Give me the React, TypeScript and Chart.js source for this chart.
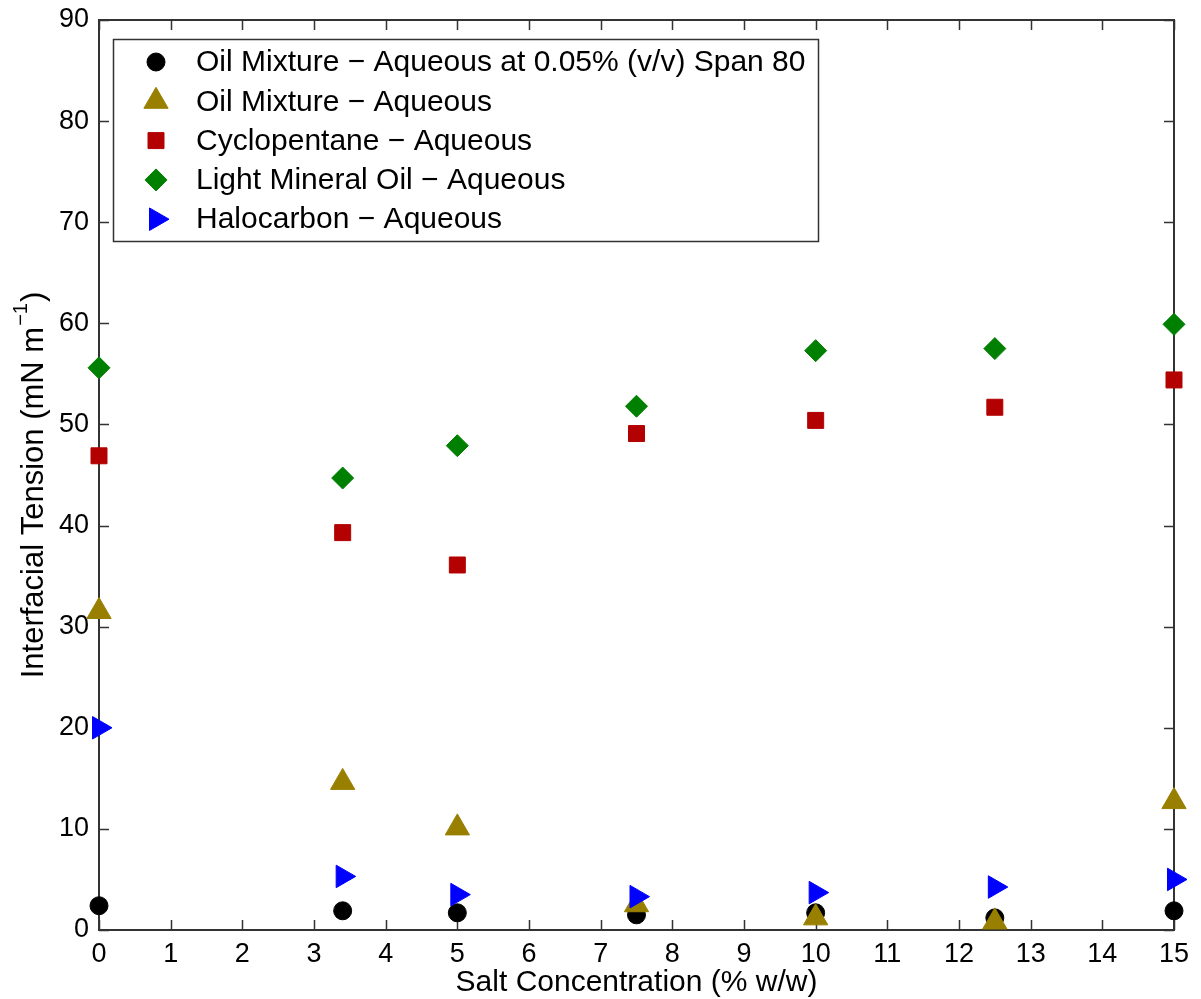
import { useEffect, useRef } from 'react';
import { Chart, registerables } from 'chart.js';
import { drawPoint } from 'chart.js/helpers';

Chart.register(...registerables);

// Salt concentration (% w/w) at which each interface was measured
const saltConcentration = [0, 3.4, 5, 7.5, 10, 12.5, 15];

// Interfacial tension (mN/m) for each oil / aqueous pair
const oilMixtureSpan80 = [2.4, 1.9, 1.7, 1.5, 1.7, 1.2, 1.9];
const oilMixture = [31.5, 14.6, 10.1, 2.5, 1.2, 0.8, 12.7];
const cyclopentane = [46.9, 39.3, 36.1, 49.1, 50.4, 51.7, 54.4];
const lightMineralOil = [55.6, 44.7, 47.9, 51.8, 57.3, 57.5, 59.9];
const halocarbon = [20.0, 5.3, 3.5, 3.3, 3.7, 4.25, 5.0];

const seriesLabels = [
  'Oil Mixture − Aqueous at 0.05% (v/v) Span 80',
  'Oil Mixture − Aqueous',
  'Cyclopentane − Aqueous',
  'Light Mineral Oil − Aqueous',
  'Halocarbon − Aqueous',
];

const xTicks = [0, 1, 2, 3, 4, 5, 6, 7, 8, 9, 10, 11, 12, 13, 14, 15];
const yTicks = [0, 10, 20, 30, 40, 50, 60, 70, 80, 90];

const xTitle = 'Salt Concentration (% w/w)';
const yTitleMain = 'Interfacial Tension (mN m';
const yTitleSup = '−1';
const yTitleEnd = ')';

const FONT = '"Liberation Sans", Arial, Helvetica, sans-serif';
const AXIS_COLOR = '#333333';
const TICK_LEN = 10;

type Marker = { color: string; style: string; radius: number; rotation: number };

const markers: Marker[] = [
  { color: '#000000', style: 'circle', radius: 9, rotation: 0 },
  { color: '#997F00', style: 'triangle', radius: 14, rotation: 0 },
  { color: '#B30000', style: 'rect', radius: 11.3, rotation: 0 },
  { color: '#008000', style: 'rectRot', radius: 11, rotation: 0 },
  { color: '#0000FF', style: 'triangle', radius: 13, rotation: 90 },
];

const seriesValues = [oilMixtureSpan80, oilMixture, cyclopentane, lightMineralOil, halocarbon];

// Box around the axes with inward ticks on all four sides
const framePlugin = {
  id: 'frame',
  beforeDatasetsDraw(chart: any) {
    const { ctx, chartArea, scales } = chart;
    const { left, right, top, bottom } = chartArea;
    ctx.save();
    ctx.strokeStyle = AXIS_COLOR;
    ctx.lineWidth = 2;
    ctx.strokeRect(left, top, right - left, bottom - top);
    ctx.beginPath();
    for (const t of xTicks) {
      const px = Math.round(scales.x.getPixelForValue(t)) + 0.5;
      ctx.moveTo(px, bottom);
      ctx.lineTo(px, bottom - TICK_LEN);
      ctx.moveTo(px, top);
      ctx.lineTo(px, top + TICK_LEN);
    }
    for (const t of yTicks) {
      const py = Math.round(scales.y.getPixelForValue(t)) + 0.5;
      ctx.moveTo(left, py);
      ctx.lineTo(left + TICK_LEN, py);
      ctx.moveTo(right, py);
      ctx.lineTo(right - TICK_LEN, py);
    }
    ctx.lineWidth = 1.5;
    ctx.stroke();
    ctx.restore();
  },
};

// Axis titles (with a superscript unit) and the boxed legend
const annotationPlugin = {
  id: 'annotations',
  afterDraw(chart: any) {
    const { ctx, chartArea } = chart;
    const { left, right, top, bottom } = chartArea;
    ctx.save();

    // x-axis title
    ctx.fillStyle = '#000';
    ctx.font = `30px ${FONT}`;
    ctx.textAlign = 'center';
    ctx.textBaseline = 'middle';
    ctx.fillText(xTitle, (left + right) / 2, 983);

    // y-axis title
    ctx.save();
    ctx.translate(34, (top + bottom) / 2 + 10);
    ctx.rotate(-Math.PI / 2);
    ctx.textAlign = 'left';
    ctx.font = `31px ${FONT}`;
    const wMain = ctx.measureText(yTitleMain).width;
    const wEnd = ctx.measureText(yTitleEnd).width;
    ctx.font = `20px ${FONT}`;
    const wSup = ctx.measureText(yTitleSup).width;
    let cx = -(wMain + wSup + wEnd + 2) / 2;
    ctx.font = `31px ${FONT}`;
    ctx.fillText(yTitleMain, cx, 0);
    cx += wMain + 1;
    ctx.font = `20px ${FONT}`;
    ctx.fillText(yTitleSup, cx, -13);
    cx += wSup + 1;
    ctx.font = `31px ${FONT}`;
    ctx.fillText(yTitleEnd, cx, 0);
    ctx.restore();

    // legend
    const boxL = 113;
    const boxT = 39;
    const boxR = 818;
    const boxB = 241;
    ctx.fillStyle = '#ffffff';
    ctx.fillRect(boxL, boxT, boxR - boxL, boxB - boxT);
    ctx.strokeStyle = AXIS_COLOR;
    ctx.lineWidth = 1.5;
    ctx.strokeRect(boxL + 0.5, boxT + 0.5, boxR - boxL, boxB - boxT);

    const rowStart = 62;
    const rowStep = 39.3;
    seriesLabels.forEach((label, i) => {
      const y = rowStart + i * rowStep;
      const m = markers[i];
      ctx.fillStyle = m.color;
      ctx.strokeStyle = m.color;
      ctx.lineWidth = 1;
      drawPoint(ctx, { pointStyle: m.style as any, rotation: m.rotation, radius: m.radius, borderWidth: 1 }, 156, y);
      ctx.fillStyle = '#000';
      ctx.font = `30px ${FONT}`;
      ctx.textAlign = 'left';
      ctx.textBaseline = 'middle';
      ctx.fillText(label, 196, y + 1);
    });

    ctx.restore();
  },
};

export default function App() {
  const canvasRef = useRef<HTMLCanvasElement | null>(null);

  useEffect(() => {
    document.body.style.margin = '0';
    const canvas = canvasRef.current;
    if (!canvas) return;

    const datasets = seriesLabels.map((label, i) => ({
      label,
      data: saltConcentration.map((x, k) => ({ x, y: seriesValues[i][k] })),
      showLine: false,
      pointStyle: markers[i].style as any,
      pointRadius: markers[i].radius,
      pointRotation: markers[i].rotation,
      pointBackgroundColor: markers[i].color,
      pointBorderColor: markers[i].color,
      pointBorderWidth: 1,
      clip: false as any,
      // later series sit on top of earlier ones
      order: seriesLabels.length - i,
    }));

    const chart = new Chart(canvas, {
      type: 'scatter',
      data: { datasets },
      plugins: [framePlugin, annotationPlugin],
      options: {
        animation: false,
        responsive: false,
        devicePixelRatio: 1,
        layout: { padding: { top: 20, right: 27, left: 0, bottom: 0 } },
        plugins: {
          legend: { display: false },
          tooltip: { enabled: false },
        },
        scales: {
          x: {
            type: 'linear',
            min: 0,
            max: 15,
            afterFit: (s: any) => {
              s.height = 69;
              s.paddingLeft = 0;
              s.paddingRight = 0;
            },
            afterBuildTicks: (s: any) => {
              s.ticks = xTicks.map((v) => ({ value: v }));
            },
            grid: { display: false, drawTicks: false },
            border: { display: false },
            ticks: {
              autoSkip: false,
              maxRotation: 0,
              padding: 8,
              color: '#000',
              font: { family: FONT, size: 27 },
            },
          },
          y: {
            type: 'linear',
            min: 0,
            max: 90,
            afterFit: (s: any) => {
              s.width = 99;
              s.paddingTop = 0;
              s.paddingBottom = 0;
            },
            afterBuildTicks: (s: any) => {
              s.ticks = yTicks.map((v) => ({ value: v }));
            },
            grid: { display: false, drawTicks: false },
            border: { display: false },
            ticks: {
              padding: 10,
              color: '#000',
              font: { family: FONT, size: 27 },
            },
          },
        },
      },
    });

    return () => chart.destroy();
  }, []);

  return (
    <div style={{ width: 1201, height: 999, background: '#fff' }}>
      <canvas ref={canvasRef} width={1201} height={999} />
    </div>
  );
}
